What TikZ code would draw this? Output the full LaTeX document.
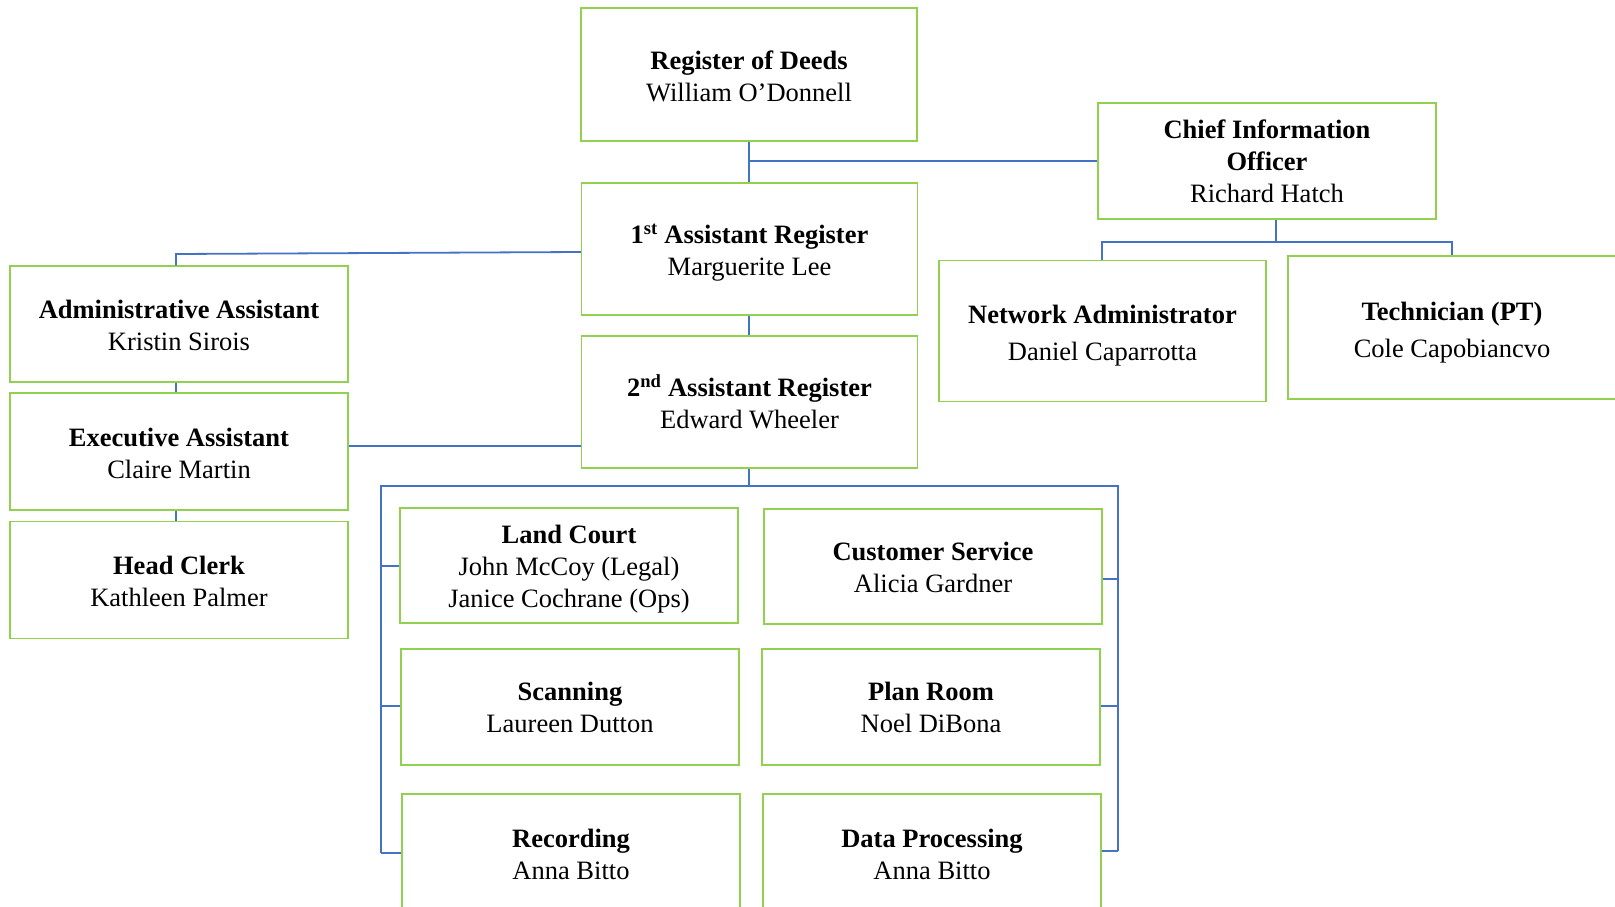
\documentclass[tikz,border=0pt]{standalone}
\usepackage{fontspec}
\setmainfont{Liberation Serif}
\definecolor{boxgreen}{RGB}{146,208,80}
\definecolor{lineblue}{RGB}{68,114,196}
\newcommand\boxtxt[2]{\raisebox{-#1pt}[\height][\depth]{\begin{tabular}{@{}c@{}}#2\end{tabular}}}
\tikzset{
  orgbox/.style={draw=boxgreen, line width=1.4pt, align=center, inner sep=0pt,
    font=\fontsize{26.5}{31.8}\selectfont},
  link/.style={draw=lineblue, line width=1.8pt}
}
\renewcommand\arraystretch{1}
\begin{document}
\begin{tikzpicture}[x=1pt,y=-1pt]
\clip (0,0) rectangle (1615,907);
\fill[white] (0,0) rectangle (1615,907);
% boxes
\node[orgbox, minimum width=336pt, minimum height=133pt] (rod) at (749,74.5) {\boxtxt{5}{\textbf{Register of Deeds}\\William O’Donnell}};
\node[orgbox, minimum width=338pt, minimum height=116pt] (cio) at (1267,161) {\boxtxt{3}{\textbf{Chief Information}\\\textbf{Officer}\\Richard Hatch}};
\node[orgbox, minimum width=336pt, minimum height=132pt] (first) at (749.5,249) {\boxtxt{4}{\textbf{1\textsuperscript{st} Assistant Register}\\Marguerite Lee}};
\node[orgbox, minimum width=336pt, minimum height=132pt] (second) at (749.5,402) {\boxtxt{4}{\textbf{2\textsuperscript{nd} Assistant Register}\\Edward Wheeler}};
\node[orgbox, minimum width=338pt, minimum height=116pt] (admin) at (179,324) {\boxtxt{4.5}{\textbf{Administrative Assistant}\\Kristin Sirois}};
\node[orgbox, minimum width=338pt, minimum height=117pt] (exec) at (179,451.5) {\boxtxt{4.5}{\textbf{Executive Assistant}\\Claire Martin}};
\node[orgbox, minimum width=338pt, minimum height=117pt] (head) at (179,580) {\boxtxt{4.5}{\textbf{Head Clerk}\\Kathleen Palmer}};
\node[orgbox, minimum width=327pt, minimum height=141pt] (net) at (1102.5,331) {\boxtxt{5}{\textbf{Network Administrator}\\[5pt]Daniel Caparrotta}};
\node[orgbox, minimum width=328pt, minimum height=143pt] (tech) at (1452,327.5) {\boxtxt{5}{\textbf{Technician (PT)}\\[5pt]Cole Capobiancvo}};
\node[orgbox, minimum width=338pt, minimum height=115pt] (land) at (569,565.5) {\boxtxt{3.5}{\textbf{Land Court}\\John McCoy (Legal)\\Janice Cochrane (Ops)}};
\node[orgbox, minimum width=338pt, minimum height=115pt] (cust) at (933,566.5) {\boxtxt{3.5}{\textbf{Customer Service}\\Alicia Gardner}};
\node[orgbox, minimum width=338pt, minimum height=116pt] (scan) at (570,707) {\boxtxt{3}{\textbf{Scanning}\\Laureen Dutton}};
\node[orgbox, minimum width=338pt, minimum height=116pt] (plan) at (931,707) {\boxtxt{3}{\textbf{Plan Room}\\Noel DiBona}};
\node[orgbox, minimum width=338pt, minimum height=116pt] (rec) at (571,852) {\boxtxt{5.5}{\textbf{Recording}\\Anna Bitto}};
\node[orgbox, minimum width=338pt, minimum height=116pt] (dp) at (932,852) {\boxtxt{5.5}{\textbf{Data Processing}\\Anna Bitto}};
% junction coordinates
\coordinate (j1) at (749,161);
\coordinate (jl) at (176,254);
\coordinate (cioj) at (1276,242);
\coordinate (netj) at (1102,242);
\coordinate (techj) at (1452,242);
\coordinate (bj) at (749,486);
\coordinate (bl) at (381,486);
\coordinate (br) at (1118,486);
\coordinate (bl1) at (381,566);
\coordinate (bl2) at (381,706);
\coordinate (bl3) at (381,853);
\coordinate (br1) at (1118,579);
\coordinate (br2) at (1118,706);
\coordinate (br3) at (1118,851);
% connectors
\draw[link] (rod.south) -- (rod.south |- first.north);
\draw[link] (j1) -- (cio.west |- j1);
\draw[link] (first.south -| j1) -- (second.north -| j1);
\draw[link] (first.west |- 0,252) -- (jl) -- (jl |- admin.north);
\draw[link] (admin.south -| jl) -- (exec.north -| jl);
\draw[link] (exec.south -| jl) -- (head.north -| jl);
\draw[link] (exec.east |- 0,446) -- (second.west |- 0,446);
\draw[link] (cio.south -| cioj) -- (cioj);
\draw[link] (net.north -| netj) -- (netj) -- (techj) -- (tech.north -| techj);
\draw[link] (second.south -| bj) -- (bj);
\draw[link] (bl3) -- (bl) -- (br) -- (br3);
\draw[link] (bl1) -- (land.west |- bl1);
\draw[link] (bl2) -- (scan.west |- bl2);
\draw[link] (bl3) -- (rec.west |- bl3);
\draw[link] (br1) -- (cust.east |- br1);
\draw[link] (br2) -- (plan.east |- br2);
\draw[link] (br3) -- (dp.east |- br3);
\end{tikzpicture}
\end{document}
